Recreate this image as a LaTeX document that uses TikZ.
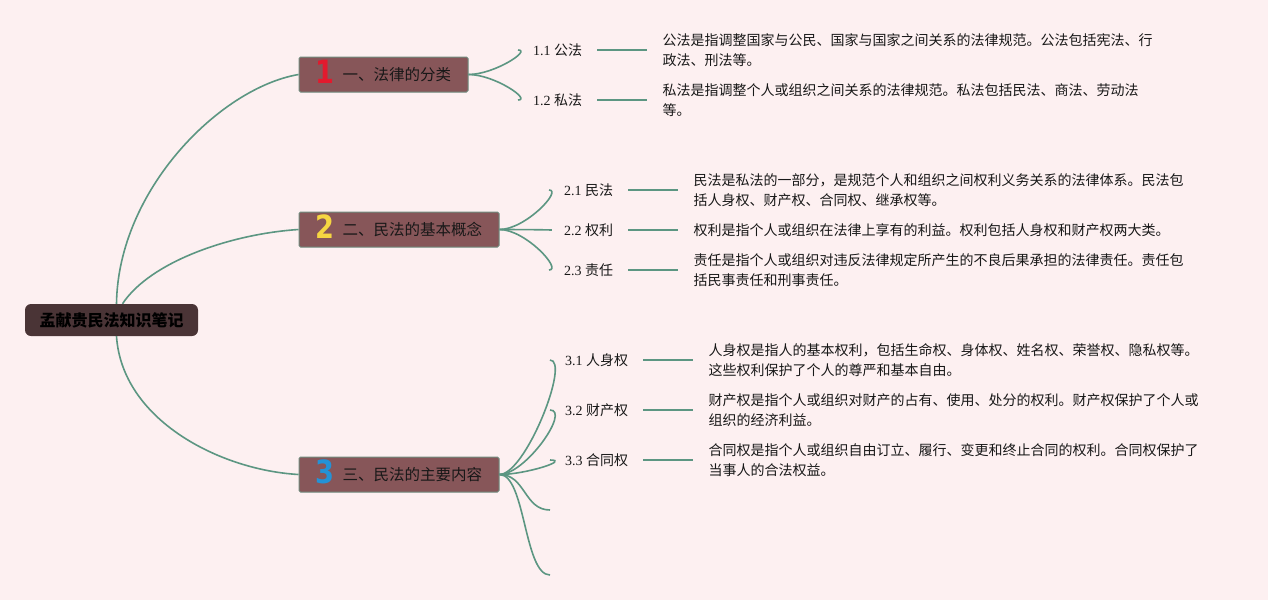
\documentclass[tikz,border=0pt]{standalone}
\usepackage{fontspec}
\setmainfont{Liberation Serif}
\newfontfamily\cjk{Noto Sans CJK SC}
\newfontfamily\numfont{DejaVu Sans}
\usetikzlibrary{positioning}
\definecolor{bgpink}{RGB}{253,240,241}
\definecolor{branchcol}{RGB}{92,150,130}
\definecolor{rootfill}{RGB}{74,52,54}
\definecolor{topicfill}{RGB}{135,86,89}
\definecolor{topicdraw}{RGB}{112,140,126}
\definecolor{textdark}{RGB}{24,24,24}
\definecolor{numred}{RGB}{226,26,46}
\definecolor{numyellow}{RGB}{246,214,66}
\definecolor{numblue}{RGB}{36,146,214}
\newcommand{\topicnum}[2]{\smash{\raisebox{-3.5pt}{\numfont\bfseries\color{#1}\scalebox{0.85}[1]{\fontsize{32}{32}\selectfont #2}}}\hspace{8pt}}
\newcommand{\sublabel}[2]{#1 {\cjk #2}}

\begin{document}
\begin{tikzpicture}[x=1pt, y=-1pt,
    root/.style={rectangle, rounded corners=6pt, fill=rootfill, minimum width=173pt, minimum height=32pt, inner sep=0pt, text=black, font=\cjk\bfseries\fontsize{16}{18}\selectfont},
    topic/.style={rectangle, rounded corners=1.5pt, fill=topicfill, draw=topicdraw, line width=1pt, minimum height=35pt, inner sep=0pt, text=textdark, font=\cjk\fontsize{15.5}{18}\selectfont},
    sub/.style={anchor=west, inner xsep=15pt, inner ysep=2pt, text=textdark, font=\fontsize{14}{16}\selectfont},
    desc/.style={inner xsep=15pt, inner ysep=0pt, align=left, text=textdark, font=\cjk\fontsize{14}{20}\selectfont},
    branch/.style={draw=branchcol, line width=1.6pt},
    link/.style={draw=branchcol, line width=2pt}
]

% Background
\fill[bgpink] (0,0) rectangle (1268,600);
\useasboundingbox (0,0) rectangle (1268,600);

% Root and topics
\node[root] (root) at (111.5,320) {孟献贵民法知识笔记};
\node[topic, minimum width=169pt] (t1) at (383.5,74.5) {\topicnum{numred}{1}一、法律的分类};
\node[topic, minimum width=200pt] (t2) at (399,229.5) {\topicnum{numyellow}{2}二、民法的基本概念};
\node[topic, minimum width=200pt] (t3) at (399,474.5) {\topicnum{numblue}{3}三、民法的主要内容};

\draw[branch] ([xshift=5pt]root.north) .. controls (118,190) and (220,88) .. (t1.west);
\draw[branch] ([xshift=11pt]root.north) .. controls (150,262) and (230,234) .. (t2.west);
\draw[branch] ([xshift=5pt]root.south) .. controls (122,420) and (220,470) .. (t3.west);

% 1 法律的分类
\node[sub] (s11) at (518,50) {\sublabel{1.1}{公法}};
\node[sub] (s12) at (518,100) {\sublabel{1.2}{私法}};
\node[desc, right=50pt of s11.east, anchor=west] (d11) {公法是指调整国家与公民、国家与国家之间关系的法律规范。公法包括宪法、行\\政法、刑法等。};
\node[desc, right=50pt of s12.east, anchor=west] (d12) {私法是指调整个人或组织之间关系的法律规范。私法包括民法、商法、劳动法\\等。};

% 2 民法的基本概念
\node[sub] (s21) at (549,190) {\sublabel{2.1}{民法}};
\node[sub] (s22) at (549,230) {\sublabel{2.2}{权利}};
\node[sub] (s23) at (549,270) {\sublabel{2.3}{责任}};
\node[desc, right=50pt of s21.east, anchor=west] (d21) {民法是私法的一部分，是规范个人和组织之间权利义务关系的法律体系。民法包\\括人身权、财产权、合同权、继承权等。};
\node[desc, right=50pt of s22.east, anchor=west] (d22) {权利是指个人或组织在法律上享有的利益。权利包括人身权和财产权两大类。};
\node[desc, right=50pt of s23.east, anchor=west] (d23) {责任是指个人或组织对违反法律规定所产生的不良后果承担的法律责任。责任包\\括民事责任和刑事责任。};

% 3 民法的主要内容
\node[sub] (s31) at (550,360) {\sublabel{3.1}{人身权}};
\node[sub] (s32) at (550,410) {\sublabel{3.2}{财产权}};
\node[sub] (s33) at (550,460) {\sublabel{3.3}{合同权}};
\coordinate (b34) at (550,510);
\coordinate (b35) at (550,575);
\node[desc, right=50pt of s31.east, anchor=west] (d31) {人身权是指人的基本权利，包括生命权、身体权、姓名权、荣誉权、隐私权等。\\这些权利保护了个人的尊严和基本自由。};
\node[desc, right=50pt of s32.east, anchor=west] (d32) {财产权是指个人或组织对财产的占有、使用、处分的权利。财产权保护了个人或\\组织的经济利益。};
\node[desc, right=50pt of s33.east, anchor=west] (d33) {合同权是指个人或组织自由订立、履行、变更和终止合同的权利。合同权保护了\\当事人的合法权益。};

% Branches
\foreach \t/\s in {t1/s11, t1/s12, t2/s21, t2/s22, t2/s23, t3/s31, t3/s32, t3/s33, t3/b34, t3/b35}
  \draw[branch] (\t.east) .. controls +(26,0) and +(-26,0) .. (\s);
\foreach \s/\d in {s11/d11, s12/d12, s21/d21, s22/d22, s23/d23, s31/d31, s32/d32, s33/d33}
  \draw[link] (\s.east) -- (\d.west);

\end{tikzpicture}
\end{document}
